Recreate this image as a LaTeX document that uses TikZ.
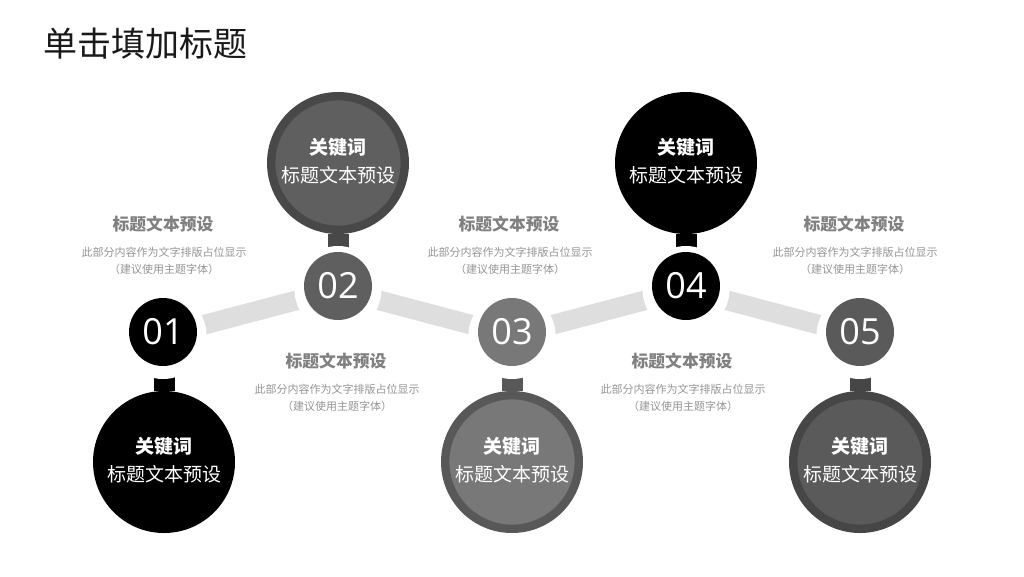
\documentclass[tikz,border=0pt]{standalone}
\usepackage{fontspec}
\usetikzlibrary{backgrounds}
\setmainfont{Noto Sans CJK SC}
\newfontfamily\latinf{Open Sans}
\definecolor{ca}{HTML}{000000}
\definecolor{cb}{HTML}{5F5F5F}
\definecolor{cbr}{HTML}{484848}
\definecolor{cc}{HTML}{787878}
\definecolor{ccr}{HTML}{585858}
\definecolor{ce}{HTML}{5A5A5A}
\definecolor{cer}{HTML}{464646}
\tikzset{
  x=0.75pt,y=-0.75pt,
  small/.style={circle,minimum size=51pt,inner sep=0pt,text=white,font=\latinf\fontsize{27}{27}\selectfont},
  halo/.style={circle,minimum size=65.25pt,inner sep=0pt,fill=white},
  big/.style={circle,minimum size=100.2pt,inner sep=0pt,line width=6.3pt,text=white,align=center,font=\fontsize{14.25}{21.5}\selectfont},
  stem/.style={line width=15.75pt},
  link/.style={line width=14.8pt,draw=black!13},
  head/.style={text=black!50,font=\bfseries\fontsize{12.6}{15}\selectfont},
  body/.style={text=black!42,align=center,font=\fontsize{8.25}{12.75}\selectfont},
}
\newcommand{\bigtext}{{\bfseries 关键词}\\标题文本预设\rule[-3.8pt]{0pt}{0pt}}
\begin{document}
\begin{tikzpicture}
\useasboundingbox (0,0) rectangle (1024,576);
\node[font=\fontsize{25.5}{30}\selectfont,text=black!90] (title) at (145,44) {单击填加标题};
\node[halo] (g1) at (163,335.5) {};
\node[halo] (g2) at (338,289.5) {};
\node[halo] (g3) at (512,335.5) {};
\node[halo] (g4) at (686,289.5) {};
\node[halo] (g5) at (860,335.5) {};
\node[small,fill=ca] (n1) at (163,332) {01};
\node[small,fill=cb] (n2) at (338,286) {02};
\node[small,fill=cc] (n3) at (512,332) {03};
\node[small,fill=ca] (n4) at (686,286) {04};
\node[small,fill=ce] (n5) at (860,332) {05};
\node[big,fill=ca,draw=ca] (b1) at (164,462) {\bigtext};
\node[big,fill=cb,draw=cbr] (b2) at (338,163) {\bigtext};
\node[big,fill=cc,draw=ccr] (b3) at (512,462) {\bigtext};
\node[big,fill=ca,draw=ca] (b4) at (686,163) {\bigtext};
\node[big,fill=ce,draw=cer] (b5) at (860,462) {\bigtext};
\begin{pgfonlayer}{background}
\draw[stem,draw=ca] (g1.center -| b1) -- (b1);
\draw[stem,draw=cbr] (g2.center) -- (b2);
\draw[stem,draw=ccr] (g3.center) -- (b3);
\draw[stem,draw=ca] (g4.center) -- (b4);
\draw[stem,draw=cer] (g5.center) -- (b5);
\draw[link] (g1.center) -- (g2.center);
\draw[link] (g2.center) -- (g3.center);
\draw[link] (g3.center) -- (g4.center);
\draw[link] (g4.center) -- (g5.center);
\end{pgfonlayer}
\node[head] (h1) at (163,224) {标题文本预设};
\node[body] (t1) at (164,261) {此部分内容作为文字排版占位显示\\（建议使用主题字体）};
\node[head] (h2) at (336,361) {标题文本预设};
\node[body] (t2) at (337,398) {此部分内容作为文字排版占位显示\\（建议使用主题字体）};
\node[head] (h3) at (509,224) {标题文本预设};
\node[body] (t3) at (510,261) {此部分内容作为文字排版占位显示\\（建议使用主题字体）};
\node[head] (h4) at (682,361) {标题文本预设};
\node[body] (t4) at (683,398) {此部分内容作为文字排版占位显示\\（建议使用主题字体）};
\node[head] (h5) at (854,224) {标题文本预设};
\node[body] (t5) at (855,261) {此部分内容作为文字排版占位显示\\（建议使用主题字体）};
\end{tikzpicture}
\end{document}
